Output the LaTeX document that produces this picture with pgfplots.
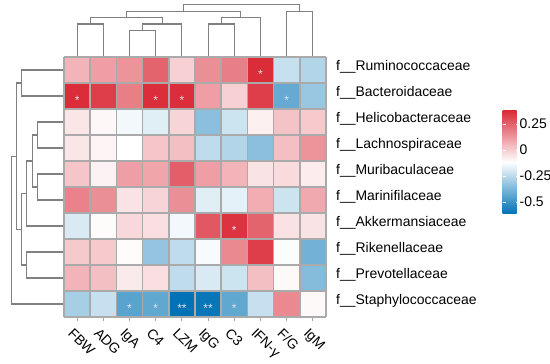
\documentclass[border=0pt]{standalone}
\usepackage{fontspec}
\setmainfont{Liberation Sans}
\usepackage{pgfplots}
\usepackage{pgfplotstable}
\pgfplotsset{compat=1.18}
\usetikzlibrary{calc}
\definecolor{dgray}{RGB}{128,128,128}
\definecolor{ggrid}{RGB}{170,170,170}
\definecolor{starc}{RGB}{225,225,232}

\pgfplotstableread{
x y c
0 0 0.06
1 0 0.11
2 0 0.135
3 0 0.245
4 0 -0.005
5 0 0.145
6 0 0.185
7 0 0.375
8 0 -0.225
9 0 -0.265
0 1 0.375
1 1 0.335
2 1 0.185
3 1 0.37
4 1 0.37
5 1 0.11
6 1 -0.005
7 1 0.335
8 1 -0.415
9 1 -0.315
0 2 -0.055
1 2 -0.095
2 2 -0.14
3 2 -0.175
4 2 -0.015
5 2 -0.34
6 2 -0.215
7 2 -0.08
8 2 0.025
9 2 0.01
0 3 -0.055
1 3 -0.09
2 3 -0.115
3 3 0.02
4 3 0.035
5 3 -0.24
6 3 -0.265
7 3 -0.34
8 3 0.035
9 3 0.135
0 4 0.02
1 4 -0.085
2 4 0.11
3 4 0.095
4 4 0.26
5 4 0.11
6 4 0.06
7 4 -0.05
8 4 -0.03
9 4 -0.07
0 5 0.175
1 5 0.145
2 5 -0.05
3 5 -0.015
4 5 0.145
5 5 -0.175
6 5 -0.165
7 5 0.075
8 5 -0.215
9 5 0.085
0 6 -0.19
1 6 -0.105
2 6 -0.025
3 6 -0.04
4 6 -0.14
5 6 0.275
6 6 0.36
7 6 0.245
8 6 -0.045
9 6 -0.05
0 7 0.01
1 7 0.01
2 7 -0.105
3 7 -0.325
4 7 -0.24
5 7 -0.13
6 7 0.16
7 7 0.335
8 7 -0.125
9 7 -0.39
0 8 0.06
1 8 0.035
2 8 -0.065
3 8 -0.04
4 8 -0.24
5 8 -0.19
6 8 -0.215
7 8 0.035
8 8 -0.1
9 8 -0.355
0 9 -0.29
1 9 -0.225
2 9 -0.44
3 9 -0.425
4 9 -0.615
5 9 -0.6
6 9 -0.425
7 9 -0.225
8 9 0.16
9 9 -0.1
}\heat

\pgfplotstableread{
x y s
7 0 *
0 1 *
3 1 *
4 1 *
8 1 *
6 6 *
2 9 *
3 9 *
4 9 **
5 9 **
6 9 *
}\stars

\begin{document}
\begin{tikzpicture}[font=\fontsize{14}{16}\selectfont]
\useasboundingbox (0,0) rectangle (550bp,364bp);
\begin{axis}[
  at={(64bp,47bp)}, anchor=south west,
  width=262bp, height=260bp, scale only axis,
  xmin=-0.5, xmax=9.5, ymin=-0.5, ymax=9.5,
  y dir=reverse, enlargelimits=false, clip=false, axis on top,
  axis line style={draw=none},
  xtick={0,...,9},
  xticklabels={FBW,ADG,IgA,C4,LZM,IgG,C3,IFN-γ,F/G,IgM},
  ytick={0,...,9},
  yticklabels={f\_\_Ruminococcaceae,f\_\_Bacteroidaceae,f\_\_Helicobacteraceae,f\_\_Lachnospiraceae,f\_\_Muribaculaceae,f\_\_Marinifilaceae,f\_\_Akkermansiaceae,f\_\_Rikenellaceae,f\_\_Prevotellaceae,f\_\_Staphylococcaceae},
  yticklabel pos=right,
  xtick pos=left,
  tick align=outside,
  major tick length=3.5bp,
  xtick style={draw=ggrid, line width=1.1bp},
  ytick style={draw=none},
  minor xtick={-0.5,0.5,1.5,2.5,3.5,4.5,5.5,6.5,7.5,8.5,9.5},
  minor ytick={-0.5,0.5,1.5,2.5,3.5,4.5,5.5,6.5,7.5,8.5,9.5},
  minor tick length=0pt,
  xminorgrids, yminorgrids,
  minor grid style={draw=ggrid, line width=1.5bp},
  tick label style={font=\fontsize{14}{16}\selectfont},
  yticklabel style={anchor=base west, inner sep=0pt, xshift=6.5bp},
  xticklabel style={xshift=-3bp, yshift=-6.5bp, rotate=-45, anchor=north west, inner sep=0pt},
  colormap={rb}{rgb255(0cm)=(0,114,181); rgb255(1cm)=(255,255,255); rgb255(2cm)=(217,40,53)},
  point meta min=-0.615, point meta max=0.385,
  colorbar,
  colorbar style={
    at={($(parent axis.south west)+(430bp,103bp)$)}, anchor=south west,
    width=16bp, height=104bp, scale only axis,
    y dir=normal,
    axis line style={draw=none},
    ytick={-0.5,-0.25,0,0.25},
    yticklabels={-0.5,-0.25,0,0.25},
    yticklabel pos=right,
    ytick pos=both,
    tick align=inside,
    major tick length=3bp,
    ytick style={draw=white, line width=0.8bp},
    yticklabel style={font=\fontsize{14}{16}\selectfont, inner sep=1bp, xshift=0bp},
  },
]
\addplot[matrix plot*, point meta=explicit, mesh/cols=10] table[x=x, y=y, meta=c] {\heat};

\addplot[only marks, mark=none, point meta=explicit symbolic,
  nodes near coords,
  nodes near coords style={anchor=center, text=starc, font=\fontsize{12}{13}\selectfont, yshift=-4bp, inner sep=0pt}]
  table[x=x, y=y, meta=s] {\stars};

% column dendrogram
\pgfplotsset{dend/.style={draw=dgray, line width=1.1bp, mark=none, forget plot}}
\addplot[dend] coordinates {(0,-0.5) (0,-1.769) (1,-1.769) (1,-0.5)};
\addplot[dend] coordinates {(2,-0.5) (2,-1.512) (3,-1.512) (3,-0.5)};
\addplot[dend] coordinates {(2.5,-1.512) (2.5,-1.769) (4,-1.769) (4,-0.5)};
\addplot[dend] coordinates {(0.5,-1.769) (0.5,-2.027) (3.25,-2.027) (3.25,-1.769)};
\addplot[dend] coordinates {(5,-0.5) (5,-1.769) (6,-1.769) (6,-0.5)};
\addplot[dend] coordinates {(5.5,-1.769) (5.5,-2.027) (7,-2.027) (7,-0.5)};
\addplot[dend] coordinates {(1.875,-2.027) (1.875,-2.242) (6.25,-2.242) (6.25,-2.027)};
\addplot[dend] coordinates {(8,-0.5) (8,-2.242) (9,-2.242) (9,-0.5)};
\addplot[dend] coordinates {(4.0625,-2.242) (4.0625,-2.512) (8.5,-2.512) (8.5,-2.242)};
% row dendrogram
\addplot[dend] coordinates {(-0.5,0) (-2.115,0) (-2.115,1) (-0.5,1)};
\addplot[dend] coordinates {(-0.5,2) (-1.519,2) (-1.519,3) (-0.5,3)};
\addplot[dend] coordinates {(-0.5,4) (-1.519,4) (-1.519,5) (-0.5,5)};
\addplot[dend] coordinates {(-1.519,2.5) (-1.71,2.5) (-1.71,4.5) (-1.519,4.5)};
\addplot[dend] coordinates {(-1.71,3.5) (-1.924,3.5) (-1.924,6) (-0.5,6)};
\addplot[dend] coordinates {(-0.5,7) (-1.924,7) (-1.924,8) (-0.5,8)};
\addplot[dend] coordinates {(-1.924,4.75) (-2.115,4.75) (-2.115,7.5) (-1.924,7.5)};
\addplot[dend] coordinates {(-2.115,0.5) (-2.305,0.5) (-2.305,6.125) (-2.115,6.125)};
\addplot[dend] coordinates {(-2.305,3.3125) (-2.496,3.3125) (-2.496,9) (-0.5,9)};
\end{axis}
\end{tikzpicture}
\end{document}
